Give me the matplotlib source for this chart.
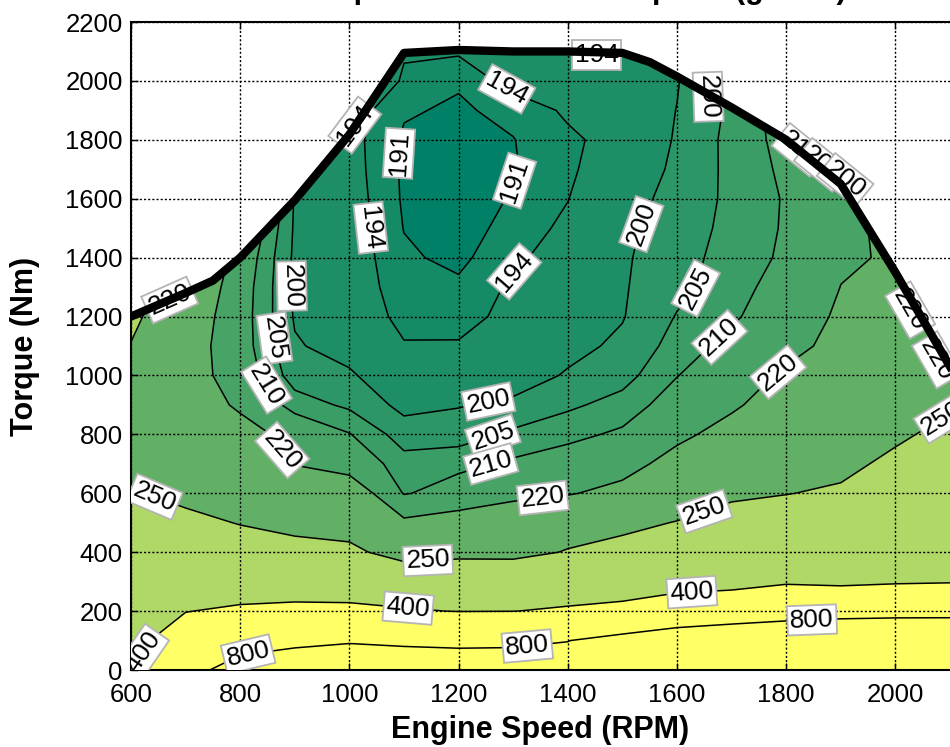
import numpy as np
import matplotlib
matplotlib.use("Agg")
import matplotlib.pyplot as plt

plt.rcParams['font.family'] = ['Liberation Sans', 'DejaVu Sans']

# ---------------- data ----------------
speeds = [600, 700, 800, 900, 1000, 1100, 1200, 1300, 1400, 1500, 1600, 1700, 1800, 1900, 2000, 2100]
torques = list(range(0, 2300, 100))

# BSFC (g/kWh) for each engine speed, torque 0..2200 Nm step 100
bsfc_600 = [390, 340, 300, 280, 268, 258, 252, 245, 240, 238, 242, 249, 256, 262, 268, 275, 282, 290, 298, 306, 315, 325, 335]
bsfc_700 = [720, 511, 395, 282, 267, 256, 244, 236, 231, 228, 226, 226, 228, 232, 238, 245, 252, 260, 268, 276, 285, 295, 305]
bsfc_800 = [900, 700, 430, 295, 262, 249, 240, 232, 225, 218, 214, 213, 213, 213.5, 215, 218, 222, 228, 235, 243, 251, 260, 270]
bsfc_900 = [950, 750, 445, 300, 262, 240, 230, 219.5, 216, 207.5, 202.5, 200.5, 199.5, 199.2, 199.0, 199.3, 199.5, 203, 208, 214, 221, 229, 238]
bsfc_1000 = [980, 780, 440, 300, 258, 235, 228, 215, 210.3, 204, 200.7, 198, 197, 196.5, 196.2, 196, 195.8, 195.5, 195.3, 196, 197, 199, 202]
bsfc_1100 = [960, 760, 415, 282, 235, 222, 209.5, 207, 202.5, 198.5, 196, 194.3, 192.8, 192, 191.5, 190.9, 190.6, 190.5, 190.6, 191.3, 193.7, 194.2, 195]
bsfc_1200 = [970, 740, 395, 280, 241, 225, 213, 208.5, 202.5, 199.7, 197, 194.4, 192.5, 191.6, 190.2, 189.5, 189.2, 189.3, 189.6, 190.6, 191.3, 194.5, 198]
bsfc_1300 = [960, 750, 398, 282, 240, 228, 217, 211, 206, 201, 197.5, 196, 195.3, 194.6, 193.4, 192.2, 191.3, 190.7, 190.9, 191.8, 195.5, 198, 201]
bsfc_1400 = [920, 795, 420, 300, 252, 235, 219, 213, 208.5, 204, 200.5, 198.5, 197.2, 196.3, 195.5, 194.8, 193.9, 193.4, 193.3, 194.6, 196, 197, 199]
bsfc_1500 = [1000, 900, 445, 310, 258, 244, 224, 215, 211, 207, 203, 201, 199.7, 199.5, 199.3, 199.0, 198.1, 196.5, 195.5, 196.3, 197.5, 198.5, 200]
bsfc_1600 = [1100, 1050, 480, 350, 280, 251, 235, 225, 217, 213, 209.8, 207, 205.3, 203.6, 203, 202.2, 201.5, 201, 200.5, 200.1, 199.7, 199.5, 199.5]
bsfc_1700 = [1200, 1180, 500, 360, 290, 262, 245, 233, 225, 218, 215, 212, 209, 207.5, 207, 206.5, 206.2, 206.3, 206.5, 206, 206, 206, 206]
bsfc_1800 = [1250, 1200, 600, 380, 300, 270, 249, 242, 234, 227, 221.5, 217, 214.5, 213, 211, 210.6, 210.5, 211.2, 212, 213, 214, 215, 216]
bsfc_1900 = [1300, 1250, 640, 360, 300, 270, 255, 241, 234, 229, 225, 223, 221.5, 220.1, 219, 218.5, 218.5, 219, 219.5, 220, 221, 222, 223]
bsfc_2000 = [1350, 1300, 650, 380, 310, 285, 270, 258, 244, 236, 231, 227, 224, 222, 220.8, 221.5, 222.5, 224, 226, 228, 230, 232, 234]
bsfc_2100 = [1400, 1350, 640, 390, 330, 305, 290, 275, 260, 246, 238, 234, 231, 230, 230, 231, 232, 233, 234, 235, 236, 237, 238]

bsfc_columns = [bsfc_600, bsfc_700, bsfc_800, bsfc_900, bsfc_1000, bsfc_1100, bsfc_1200, bsfc_1300,
                bsfc_1400, bsfc_1500, bsfc_1600, bsfc_1700, bsfc_1800, bsfc_1900, bsfc_2000, bsfc_2100]

levels = [191, 194, 200, 205, 210, 220, 250, 400, 800]

# full-load (maximum torque) curve
max_speed = [600, 700, 750, 800, 900, 1000, 1100, 1200, 1300, 1400, 1500, 1550, 1600, 1700, 1800, 1900, 2000, 2100]
max_torque = [1200, 1280, 1322, 1400, 1595, 1818, 2095, 2105, 2100, 2100, 2095, 2064, 2015, 1910, 1800, 1650, 1350, 1030]

title_text = "Brake Specific Fuel Consumption (g/kWh)"
xlabel_text = "Engine Speed (RPM)"
ylabel_text = "Torque (Nm)"
xticks = [600, 800, 1000, 1200, 1400, 1600, 1800, 2000]
yticks = list(range(0, 2201, 200))

# ---------------- style ----------------
fill_colors = ['#008066', '#158a66', '#1d8e66', '#2d9666', '#3a9d66', '#47a366',
               '#61b066', '#b0d866', '#ffff66', '#ffff66']

label_spots = {
    191: [(1078, 1755), (1312, 1654)],
    194: [(1285, 1963), (1036, 1501), (1303, 1351)],
    200: [(906, 1304), (1538, 1511), (1254, 917)],
    205: [(866, 1127), (1258, 822), (1627, 1307)],
    210: [(851, 971), (1258, 706), (1679, 1127)],
    220: [(877, 747), (1353, 601), (1789, 1002)],
    250: [(644, 594), (1144, 363), (1648, 550), (2082, 866)],
    400: [(622, 60), (1107, 197), (1627, 272)],
    800: [(814, 61), (1325, 95), (1847, 180)],
}
# labels sitting on the full-load curve (text, x, y, rotation)
edge_labels = [("220", 671, 1256, 24), ("194", 1010, 1850, 53), ("194", 1453, 2088, 0),
               ("200", 1657, 1946, -88), ("210", 1825, 1766, -39), ("205", 1866, 1715, -39),
               ("200", 1908, 1664, -39), ("220", 2027, 1222, -60), ("220", 2076, 1053, -60)]

box = dict(boxstyle='square,pad=0.1', facecolor='white', edgecolor='#b4b4b4', linewidth=1.3)
label_size = 19

fig = plt.figure(figsize=(9.5, 7.47), dpi=100)
ax = fig.add_axes([131/950, 1 - 670/747, 819/950, 648/747])

Z = np.array(bsfc_columns).T
bounds = [0] + levels + [5000]
ax.contourf(speeds, torques, Z, levels=bounds, colors=fill_colors, zorder=1)

ax.fill_between(max_speed, max_torque, 2200, color='white', linewidth=0, zorder=2.2)

for lvl in levels:
    cs = ax.contour(speeds, torques, Z, levels=[lvl], colors='black', linewidths=1.1, zorder=2)
    texts = ax.clabel(cs, manual=label_spots[lvl], inline=False,
                      fontsize=label_size, fmt='%d', colors='black', zorder=5)
    for t in texts:
        t.set_bbox(box)

for s, x, y, r in edge_labels:
    ax.text(x, y, s, rotation=r, rotation_mode='anchor', ha='center', va='center',
            fontsize=label_size, bbox=box, zorder=5)

ax.plot(max_speed, max_torque, color='black', linewidth=6, zorder=6)

ax.set_xlim(600, 2100)
ax.set_ylim(0, 2200)
ax.set_xticks(xticks)
ax.set_yticks(yticks)
ax.set_axisbelow(False)
ax.grid(True, color='black', linestyle=(0, (1.5, 1.5)), linewidth=1.0)
ax.tick_params(direction='in', top=True, right=False, length=5, width=1, labelsize=18.5)
ax.tick_params(axis='x', pad=9)
ax.tick_params(axis='y', pad=6)
for side in ['left', 'bottom', 'top']:
    ax.spines[side].set_linewidth(1.5)
ax.spines['right'].set_visible(False)

ax.set_xlabel(xlabel_text, fontsize=22, fontweight='bold', labelpad=6)
ax.set_ylabel(ylabel_text, fontsize=22, fontweight='bold', labelpad=18)
fig.text(543/950, 1 + 2/747, title_text, ha='center', va='baseline', fontsize=22, fontweight='bold')

fig.savefig('out.png', dpi=100)
